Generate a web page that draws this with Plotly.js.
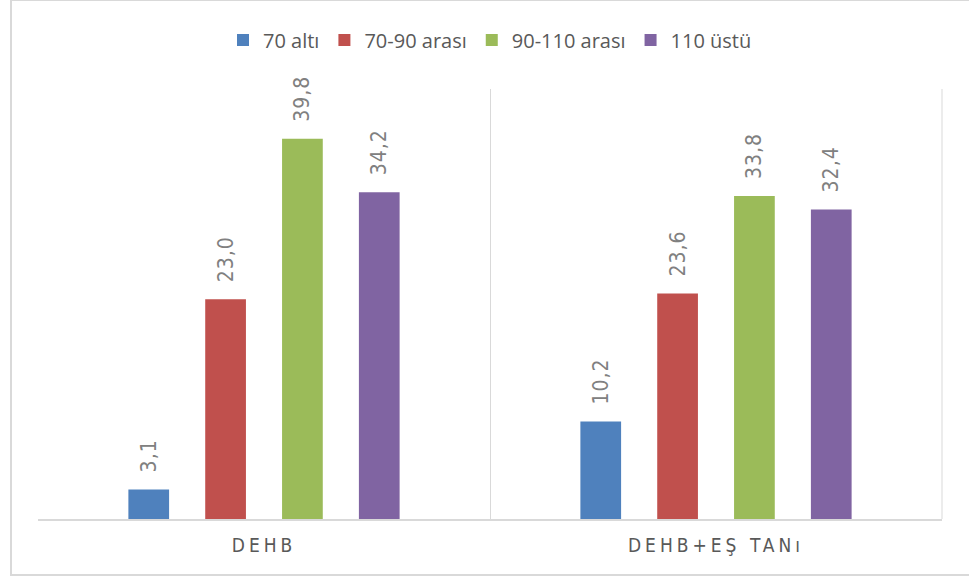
<!DOCTYPE html>
<html>
<head>
<meta charset="utf-8">
<script src="https://cdn.plot.ly/plotly-3.0.1.min.js"></script>
<style>
  html, body { margin: 0; padding: 0; background: #fff; }
  #wrap { position: relative; width: 969px; height: 579px; overflow: hidden; }
  #chart { position: absolute; left: 0; top: 0; width: 969px; height: 579px; }
  #frame { position: absolute; left: 10px; top: -1px; width: 980px; height: 577px;
           border: 2px solid #d9d9d9; box-sizing: border-box; pointer-events: none; }
  .xtick text { letter-spacing: 4px; }
  text.bartext { letter-spacing: 1px; }
</style>
</head>
<body>
<div id="wrap">
  <div id="chart"></div>
  <div id="frame"></div>
</div>
<script>
// Groups on the x axis
const groups = ['DEHB', 'DEHB+EŞ TANı'];

// IQ bands (one bar series each)
const bandNames = ['70 altı', '70-90 arası', '90-110 arası', '110 üstü'];
const bandColors = ['#4F81BD', '#C0504D', '#9BBB59', '#8064A2'];

// Percentages per band, in the order of `groups`
const below70 = [3.1, 10.2];
const from70to90 = [23.0, 23.6];
const from90to110 = [39.8, 33.8];
const above110 = [34.2, 32.4];

const seriesValues = [below70, from70to90, from90to110, above110];

const narrowFont = 'Liberation Sans Narrow, DejaVu Sans Condensed, Open Sans, sans-serif';

const traces = seriesValues.map((vals, i) => ({
  type: 'bar',
  name: bandNames[i],
  x: groups,
  y: vals,
  marker: { color: bandColors[i] },
  // leading no-break spaces lift the rotated label clear of the bar top
  texttemplate: '\u00a0\u00a0%{y:.1f}',
  textposition: 'outside',
  textangle: -90,
  constraintext: 'none',
  cliponaxis: false,
  textfont: { family: narrowFont, size: 21, color: '#808080' },
  hoverinfo: 'skip'
}));

const layout = {
  width: 969,
  height: 579,
  margin: { l: 38, r: 27, t: 89, b: 60 },
  paper_bgcolor: '#ffffff',
  plot_bgcolor: '#ffffff',
  separators: ',.',
  barmode: 'group',
  bargap: 0.32,
  bargroupgap: 0.47,
  showlegend: true,
  legend: {
    orientation: 'h',
    xref: 'paper', x: 0.5, xanchor: 'center',
    yref: 'container', y: 1 - 40 / 579, yanchor: 'middle',
    font: { family: 'Open Sans, Noto Sans, sans-serif', size: 20, color: '#595959' },
    itemwidth: 30,
    traceorder: 'normal'
  },
  xaxis: {
    type: 'category',
    tickson: 'boundaries',
    showgrid: true,
    gridcolor: '#d9d9d9',
    gridwidth: 1,
    showline: true,
    linecolor: '#d9d9d9',
    linewidth: 2,
    mirror: false,
    ticks: '',
    ticklabelstandoff: 8,
    tickfont: { family: narrowFont, size: 19, color: '#595959' }
  },
  yaxis: {
    range: [0, 45],
    showgrid: false,
    zeroline: false,
    showline: false,
    showticklabels: false,
    ticks: ''
  },
  shapes: [
    // right edge of the plot area
    { type: 'line', xref: 'paper', yref: 'paper', x0: 1, x1: 1, y0: 0, y1: 1,
      line: { color: '#d9d9d9', width: 1 } }
  ]
};

Plotly.newPlot('chart', traces, layout, { displayModeBar: false, staticPlot: true });
</script>
</body>
</html>
